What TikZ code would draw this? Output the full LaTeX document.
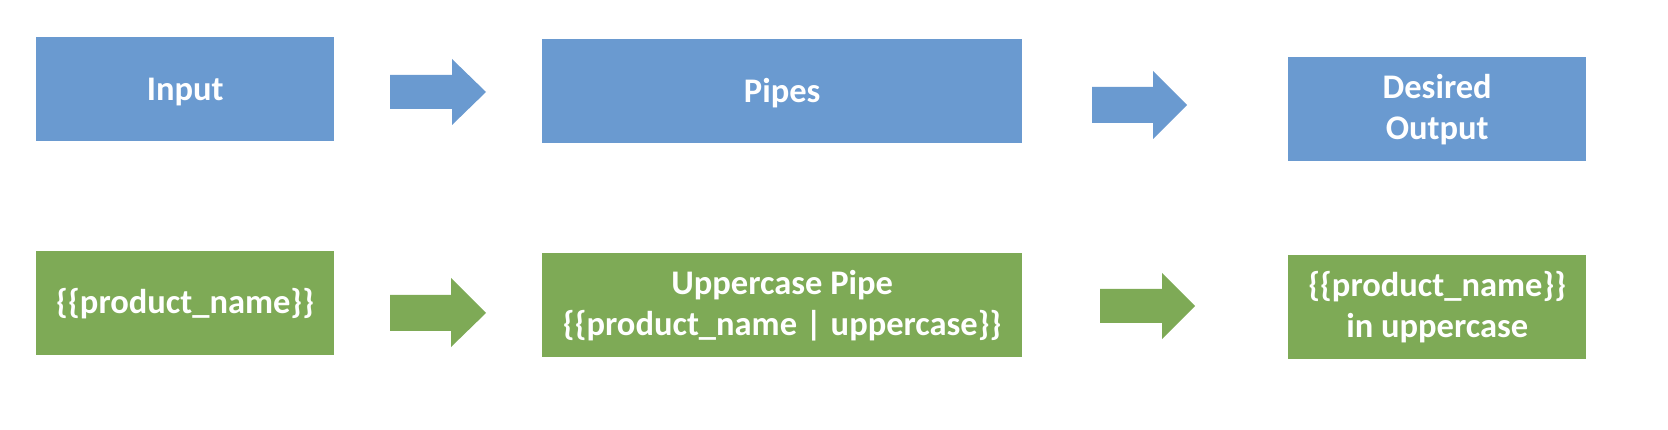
\documentclass[tikz,border=0pt]{standalone}
\usepackage{fontspec}
\setmainfont{Carlito}
\definecolor{boxblue}{HTML}{6A9AD0}
\definecolor{boxgreen}{HTML}{7EAA56}
\begin{document}
\begin{tikzpicture}[x=1pt,y=-1pt,
  blk/.style={rectangle, inner sep=0pt, align=center, text=white,
    font=\fontsize{34.5}{41}\selectfont\bfseries, anchor=north west},
  bluebox/.style={blk, fill=boxblue},
  greenbox/.style={blk, fill=boxgreen}]
\useasboundingbox (0,0) rectangle (1668,430);
% top row
\node[bluebox, minimum width=298pt, minimum height=104pt] (input) at (36,37) {\rule{0pt}{28pt}Input};
\node[bluebox, minimum width=480pt, minimum height=104pt] (pipes) at (542,39) {\rule{0pt}{28pt}Pipes};
\node[bluebox, minimum width=298pt, minimum height=104pt] (out) at (1288,57) {Desired\\Output};
% bottom row
\node[greenbox, minimum width=298pt, minimum height=104pt] (prod) at (36,251) {\{\{product\_name\}\}};
\node[greenbox, minimum width=480pt, minimum height=104pt] (upper) at (542,253) {Uppercase Pipe\\\{\{product\_name\hspace{0.25em}|\hspace{0.25em}uppercase\}\}};
\node[greenbox, minimum width=298pt, minimum height=104pt] (res) at (1288,255) {\{\{product\_name\}\}\\in uppercase};
% block arrows
\fill[boxblue] (390,75) -- (452,75) -- (452,59) -- (486,92) -- (452,125) -- (452,109) -- (390,109) -- cycle;
\fill[boxblue] (1092,87) -- (1153,87) -- (1153,71) -- (1187,105) -- (1153,139) -- (1153,123) -- (1092,123) -- cycle;
\fill[boxgreen] (390,295) -- (451,295) -- (451,278) -- (486,313) -- (451,347) -- (451,331) -- (390,331) -- cycle;
\fill[boxgreen] (1100,289) -- (1162,289) -- (1162,273) -- (1195,306) -- (1162,339) -- (1162,323) -- (1100,323) -- cycle;
\end{tikzpicture}
\end{document}
